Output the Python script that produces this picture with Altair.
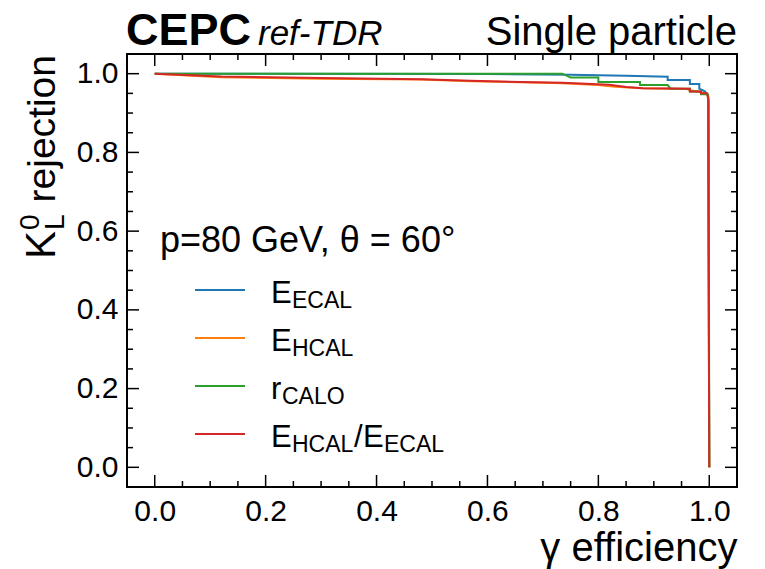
import altair as alt
import pandas as pd

FONT = "Liberation Sans"

# ROC curves: photon efficiency vs K_L^0 rejection for each discriminating variable
ecal_eff = [0.0, 0.60, 0.75, 0.85, 0.925, 0.925, 0.965, 0.965, 0.982, 0.982, 0.992, 0.998, 1.0]
ecal_rej = [1.0, 0.999, 0.997, 0.995, 0.992, 0.984, 0.984, 0.974, 0.974, 0.962, 0.955, 0.945, 0.0]

hcal_eff = [0.0, 0.12, 0.30, 0.48, 0.57, 0.66, 0.735, 0.80, 0.83, 0.88, 0.96, 0.965, 0.985, 0.996, 0.998, 1.0]
hcal_rej = [1.0, 0.991, 0.987, 0.985, 0.981, 0.978, 0.976, 0.971, 0.967, 0.963, 0.961, 0.958, 0.953, 0.948, 0.935, 0.0]

calo_eff = [0.0, 0.735, 0.75, 0.80, 0.80, 0.875, 0.875, 0.925, 0.93, 0.965, 0.965, 0.985, 0.985, 0.997, 0.999, 1.0]
calo_rej = [1.0, 1.0, 0.99, 0.99, 0.979, 0.979, 0.971, 0.971, 0.962, 0.962, 0.955, 0.955, 0.948, 0.948, 0.93, 0.0]

ratio_eff = [0.0, 0.12, 0.30, 0.48, 0.57, 0.66, 0.735, 0.82, 0.85, 0.88, 0.965, 0.965, 0.985, 0.985, 0.996, 0.998, 1.0]
ratio_rej = [1.0, 0.993, 0.989, 0.986, 0.982, 0.979, 0.977, 0.972, 0.966, 0.963, 0.962, 0.955, 0.955, 0.95, 0.95, 0.94, 0.0]

names = ["E_ECAL", "E_HCAL", "r_CALO", "E_HCAL/E_ECAL"]
colors = ["#1f77b4", "#ff7f0e", "#2ca02c", "#d62728"]

major_ticks = [0.0, 0.2, 0.4, 0.6, 0.8, 1.0]
minor_ticks = [0.05, 0.1, 0.15, 0.25, 0.3, 0.35, 0.45, 0.5, 0.55,
               0.65, 0.7, 0.75, 0.85, 0.9, 0.95]

rows = []
for name, xs, ys in zip(names,
                        [ecal_eff, hcal_eff, calo_eff, ratio_eff],
                        [ecal_rej, hcal_rej, calo_rej, ratio_rej]):
    for i, (x, y) in enumerate(zip(xs, ys)):
        rows.append({"var": name, "eff": x, "rej": y, "idx": i})
df = pd.DataFrame(rows)

W, H = 610, 433
xscale = alt.Scale(domain=[-0.05, 1.05], nice=False, zero=False)
yscale = alt.Scale(domain=[-0.05, 1.05], nice=False, zero=False)

axis_common = dict(values=major_ticks, format=".1f", grid=False, ticks=False,
                   domain=False, labelFont=FONT, labelFontSize=30,
                   labelColor="black", labelPadding=9)
x_axis = alt.Axis(**axis_common, title="γ efficiency", titleFont=FONT,
                  titleFontSize=40, titleFontWeight="normal",
                  titleColor="black", titleAnchor="end", titlePadding=2)
y_axis = alt.Axis(**axis_common, title="")

curves = alt.Chart(df).mark_line(strokeWidth=2, clip=True).encode(
    x=alt.X("eff:Q", scale=xscale, axis=x_axis),
    y=alt.Y("rej:Q", scale=yscale, axis=y_axis),
    color=alt.Color("var:N", scale=alt.Scale(domain=names, range=colors),
                    legend=None),
    order=alt.Order("idx:Q"),
)


def ticks(values, length, orient):
    # inward-pointing tick marks drawn on each side of the frame
    base = alt.Chart(pd.DataFrame({"eff": values, "rej": values})).mark_rule(
        color="black", strokeWidth=1.5)
    if orient == "bottom":
        return base.encode(x=alt.X("eff:Q", scale=xscale, axis=x_axis),
                           y=alt.value(H), y2=alt.value(H - length))
    if orient == "top":
        return base.encode(x=alt.X("eff:Q", scale=xscale, axis=x_axis),
                           y=alt.value(0), y2=alt.value(length))
    if orient == "left":
        return base.encode(y=alt.Y("rej:Q", scale=yscale, axis=y_axis),
                           x=alt.value(0), x2=alt.value(length))
    return base.encode(y=alt.Y("rej:Q", scale=yscale, axis=y_axis),
                       x=alt.value(W), x2=alt.value(W - length))


tick_layers = []
for side in ["bottom", "top", "left", "right"]:
    tick_layers.append(ticks(major_ticks, 12, side))
    tick_layers.append(ticks(minor_ticks, 6, side))


def text(t, x, y, size, align="left", angle=0, weight="normal", style="normal"):
    return alt.Chart(pd.DataFrame({"t": [t]})).mark_text(
        align=align, baseline="alphabetic", font=FONT, fontSize=size,
        fontWeight=weight, fontStyle=style, angle=angle, color="black"
    ).encode(x=alt.value(x), y=alt.value(y), text="t:N")


labels = [
    text("CEPC", -1, -9, 45, weight="bold"),
    text("ref-TDR", 131, -9, 35, style="italic"),
    text("Single particle", W, -9, 40, align="right"),
    # y-axis title K_L^0 rejection, rotated
    text("K", -72, 205, 42, angle=270),
    text("0", -88, 176, 28, angle=270),
    text("L", -63, 176, 28, angle=270),
    text("rejection", -72, 1, 39, align="right", angle=270),
    text("p=80 GeV, θ = 60°", 33, 198, 36),
]

# legend
leg_line_y = [236, 284, 332, 380]
legend_layers = []
for yy, col in zip(leg_line_y, colors):
    legend_layers.append(
        alt.Chart(pd.DataFrame({"a": [0]})).mark_rule(color=col, strokeWidth=2)
        .encode(x=alt.value(68), x2=alt.value(118), y=alt.value(yy)))

main_size, sub_size = 31, 23
legend_pieces = [
    # (text, x, row, is_sub)
    ("E", 144, 0, False), ("ECAL", 165, 0, True),
    ("E", 144, 1, False), ("HCAL", 165, 1, True),
    ("r", 144, 2, False), ("CALO", 155, 2, True),
    ("E", 144, 3, False), ("HCAL", 165, 3, True),
    ("/", 227, 3, False), ("E", 236, 3, False), ("ECAL", 257, 3, True),
]
for t, x, r, is_sub in legend_pieces:
    base_y = leg_line_y[r] + 13
    if is_sub:
        legend_layers.append(text(t, x, base_y + 5, sub_size))
    else:
        legend_layers.append(text(t, x, base_y, main_size))

chart = alt.layer(curves, *tick_layers, *labels, *legend_layers).properties(
    width=W, height=H,
    autosize=alt.AutoSizeParams(type="none"),
    padding={"left": 127, "top": 54, "right": 28, "bottom": 82},
    background="white",
).configure_view(stroke="black", strokeWidth=2)

chart.save("out.html", embed_options={"renderer": "svg", "actions": False})
